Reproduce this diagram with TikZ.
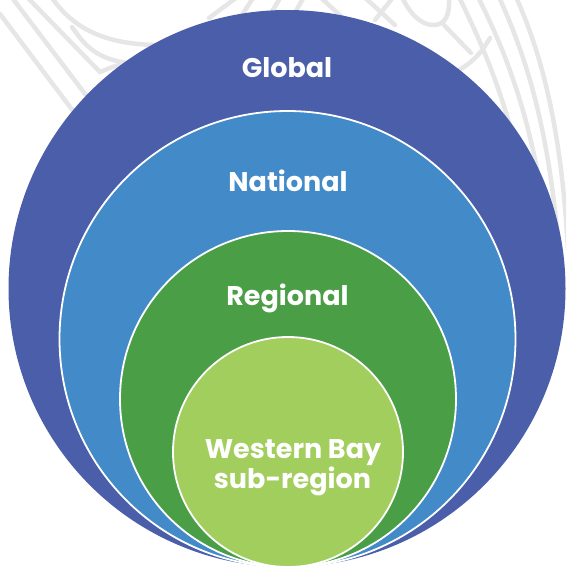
\documentclass[tikz,border=0pt]{standalone}
\usepackage{fontspec}
\setmainfont{Poppins}
\definecolor{globalc}{HTML}{4A5EAA}
\definecolor{nationalc}{HTML}{438AC9}
\definecolor{regionalc}{HTML}{4A9E45}
\definecolor{subregc}{HTML}{A2CE5E}
\definecolor{patgray}{HTML}{E6E6E6}
\begin{document}
\begin{tikzpicture}[x=1pt,y=-1pt,
  bgline/.style={draw=patgray,line width=4.5pt,line cap=round},
  ringc/.style={circle,inner sep=0pt,outer sep=0pt},
  ringline/.style={draw=white,line width=1.8pt},
  lbl/.style={text=white,font=\bfseries\fontsize{27}{30}\selectfont,inner sep=0pt,anchor=base}]
\useasboundingbox (0,0) rectangle (566,568);
\clip (0,0) rectangle (566,568);
% background pattern
\draw[bgline] (0,14) -- (110,160);
\draw[bgline] (10,-5) -- (120,140);
\draw[bgline] (25,-5) -- (100,72) .. controls (110,68) and (118,64) .. (135,62);
\draw[bgline] (50,-5) .. controls (70,25) and (100,45) .. (160,45);
\draw[bgline] (72,27) .. controls (85,45) and (95,60) .. (135,64);
\draw[bgline] (209,18) -- (240,-5);
\draw[bgline] (240,18) -- (255,-5);
\draw[bgline] (268,18) -- (282,-5);
\draw[bgline] (292,18) -- (305,-5);
\draw[bgline] (318,-5) -- (345,20);
\draw[bgline] (362,-5) -- (395,25);
\draw[bgline] (375,20) -- (395,-5);
\draw[bgline] (401,-5) .. controls (410,15) and (422,25) .. (433,25) .. controls (446,25) and (450,15) .. (449,-5);
\draw[bgline] (444,25) -- (471,53);
\draw[bgline] (440,78) .. controls (455,73) and (466,67) .. (475,58) .. controls (482,51) and (485,46) .. (490,38);
\draw[bgline] (458,-5) .. controls (490,60) and (515,120) .. (535,240);
\draw[bgline] (477,-5) .. controls (510,60) and (535,130) .. (548,240);
\draw[bgline] (498,-5) .. controls (528,60) and (548,130) .. (558,240);
\draw[bgline] (515,-5) .. controls (545,60) and (562,140) .. (568,250);
% circles
\node[ringc,fill=globalc,minimum size=557pt] (global) at (287,288.5) {};
\node[ringc,ringline,fill=nationalc,minimum size=456pt] (national) at (287.5,339) {};
\node[ringc,ringline,fill=regionalc,minimum size=336pt] (regional) at (288,399) {};
\node[ringc,ringline,fill=subregc,minimum size=230pt] (subregion) at (288,452) {};
% labels
\node[lbl] (tglobal) at (287,77.5) {Global};
\node[lbl] (tnational) at (288,191) {National};
\node[lbl] (tregional) at (287.5,305) {Regional};
\node[lbl] (twb1) at (293,458) {Western Bay};
\node[lbl] (twb2) at (292.5,488) {sub-region};
\end{tikzpicture}
\end{document}
